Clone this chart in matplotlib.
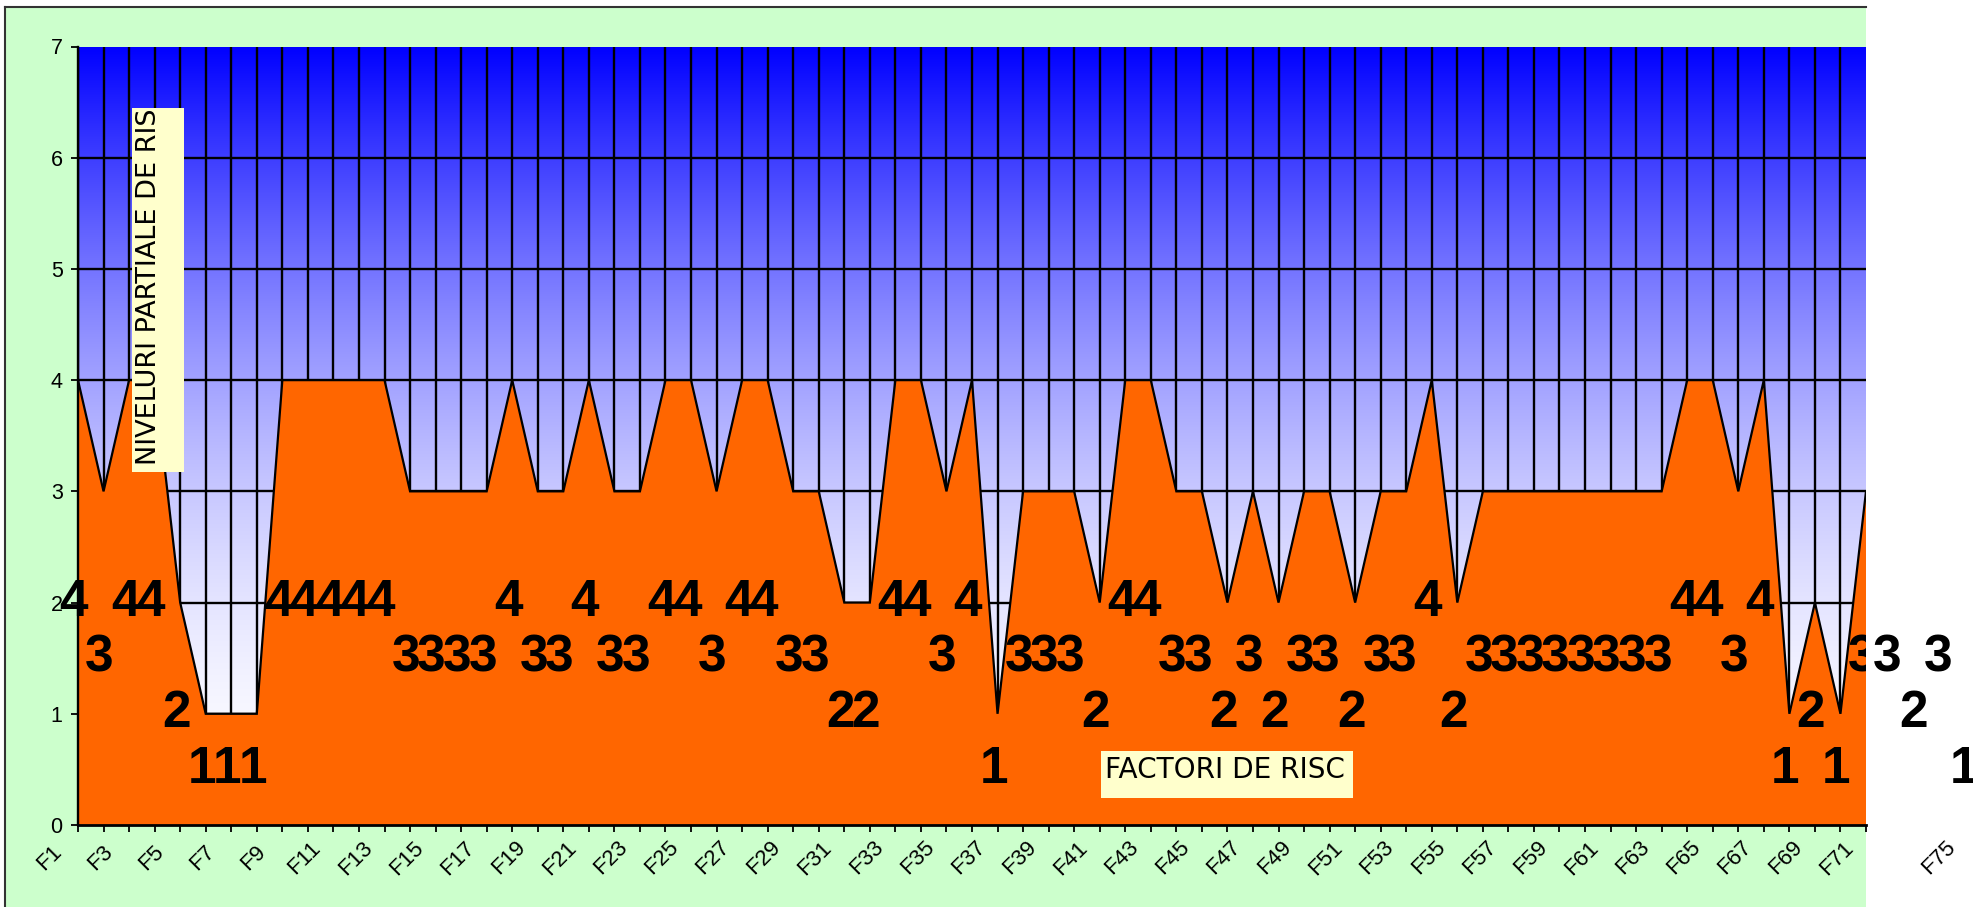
import numpy as np
import matplotlib
matplotlib.use("Agg")
import matplotlib.pyplot as plt
from matplotlib.patches import Rectangle
from matplotlib.lines import Line2D
from matplotlib.transforms import Bbox, TransformedBbox, ScaledTranslation, blended_transform_factory

# ---------------- data ----------------
categories = [f"F{i}" for i in range(1, 76)]
values = [4, 3, 4, 4, 2, 1, 1, 1, 4, 4,
          4, 4, 4, 3, 3, 3, 3, 4, 3, 3,
          4, 3, 3, 4, 4, 3, 4, 4, 3, 3,
          2, 2, 4, 4, 3, 4, 1, 3, 3, 3,
          2, 4, 4, 3, 3, 2, 3, 2, 3, 3,
          2, 3, 3, 4, 2, 3, 3, 3, 3, 3,
          3, 3, 3, 4, 4, 3, 4, 1, 2, 1,
          3, 3, 2, 3, 1]
xtick_labels_shown = [f"F{i}" for i in range(1, 72, 2)] + ["F75"]
yticks = [0, 1, 2, 3, 4, 5, 6, 7]
y_title = "NIVELURI PARTIALE DE RISC"
x_title = "FACTORI DE RISC"
n_visible = 71  # F1..F71 inside the plot area

# ---------------- figure ----------------
W, H, DPI = 1973, 907, 100
plt.rcParams['font.family'] = ['Liberation Sans', 'DejaVu Sans']
fig = plt.figure(figsize=(W / DPI, H / DPI), dpi=DPI, facecolor='white')


def fx(px):
    return px / W


def fy(py):
    return 1 - py / H


# chart area background (cropped at the right)
fig.add_artist(Rectangle((fx(5), 0), fx(1866) - fx(5), fy(6.5), transform=fig.transFigure,
                         facecolor='#CCFFCC', edgecolor='none', zorder=-10))
fig.add_artist(Line2D([fx(5), fx(5)], [0, fy(6.5)], transform=fig.transFigure,
                      color='#333333', lw=1.5, zorder=-9))
fig.add_artist(Line2D([fx(5), fx(1866)], [fy(6.5), fy(6.5)], transform=fig.transFigure,
                      color='#333333', lw=1.5, zorder=-9))

ax = fig.add_axes([fx(78), fy(825), fx(1866) - fx(78), fy(46.5) - fy(825)])
ax.patch.set_visible(False)

xs = np.arange(len(values))
xmax = n_visible - 1

# gradient plot-area fill (blue at top -> white at bottom)
yy = np.linspace(0, 7, 512)
rg = 1 - (yy / 7) ** 1.8
img = np.dstack([rg, rg, np.ones_like(rg)]).reshape(512, 1, 3)
ax.imshow(img, extent=[0, xmax, 0, 7], origin='lower', aspect='auto',
          interpolation='bilinear', zorder=0)

# area
ax.fill_between(xs, 0, values, facecolor='#FF6600', edgecolor='none', zorder=2)
ax.plot(xs, values, color='black', lw=1.6, zorder=3, solid_joinstyle='miter')

ax.set_xlim(0, xmax)
ax.set_ylim(0, 7)

ax.set_xticks(range(n_visible))
ax.set_yticks(yticks)
ax.grid(True, color='black', lw=1.7)
ax.set_axisbelow(True)
ax.yaxis.get_major_ticks()[-1].gridline.set_visible(False)
ax.xaxis.get_major_ticks()[-1].gridline.set_visible(False)

ax.tick_params(axis='x', length=5, width=1.3, color='black', labelbottom=False, direction='out')
ax.tick_params(axis='y', length=5, width=1.3, color='black', labelsize=15.5, pad=6, direction='out')

for s in ('top', 'right'):
    ax.spines[s].set_visible(False)
ax.spines['left'].set_linewidth(1.7)
ax.spines['bottom'].set_linewidth(2.0)

# data labels (clipped at the chart's right edge for the visible ones)
clip_box = TransformedBbox(Bbox.from_extents(0, 0, fx(1866), 1), fig.transFigure)
label_off = ax.transData + ScaledTranslation(-4 / DPI, 0, fig.dpi_scale_trans)
for i, v in enumerate(values):
    t = ax.text(i, v / 2, str(v), transform=label_off, ha='center', va='center',
                fontsize=37, fontweight='bold', color='black', zorder=6)
    t.set_clip_path(None)
    if i < n_visible:
        t.set_clip_box(clip_box)
        t.set_clip_on(True)
    else:
        t.set_clip_on(False)

# category tick labels
xt = blended_transform_factory(ax.transData, ax.transAxes) + \
    ScaledTranslation(-29 / DPI, -33 / DPI, fig.dpi_scale_trans)
for lab in xtick_labels_shown:
    i = categories.index(lab)
    ax.text(i, 0, lab, transform=xt, rotation=45, ha='center', va='center',
            fontsize=16, color='black', clip_on=False)

# axis titles with light-yellow boxes
fig.add_artist(Rectangle((fx(132), fy(472)), fx(184) - fx(132), fy(108) - fy(472),
                         transform=fig.transFigure, facecolor='#FFFFCC',
                         edgecolor='none', zorder=5))
yt = fig.text(fx(149.5), fy(465), y_title, rotation=90, ha='center', va='bottom',
              fontsize=19.5, family='DejaVu Sans', color='black', zorder=6)
yt.set_clip_box(TransformedBbox(Bbox.from_extents(fx(132), fy(472), fx(184), fy(108)),
                                fig.transFigure))
yt.set_clip_on(True)

fig.add_artist(Rectangle((fx(1101), fy(798)), fx(1353) - fx(1101), fy(751) - fy(798),
                         transform=fig.transFigure, facecolor='#FFFFCC',
                         edgecolor='none', zorder=5))
xtit = fig.text(fx(1105), fy(778), x_title, ha='left', va='baseline', fontsize=17.5,
                family='DejaVu Sans', color='black', zorder=6)

# fit the x-title to its measured width in the reference (~240 px)
fig.canvas.draw()
w = xtit.get_window_extent(renderer=fig.canvas.get_renderer()).width
xtit.set_fontsize(17.5 * 240.0 / w)

fig.savefig('out.png', dpi=DPI, facecolor='white')
